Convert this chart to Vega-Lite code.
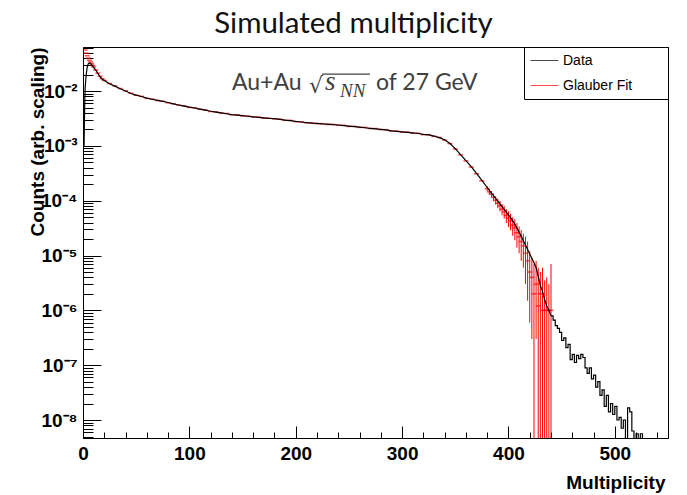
{
"$schema": "https://vega.github.io/schema/vega-lite/v6.json",
"width": 585, "height": 391,
"autosize": {"type": "none"},
"padding": {"left": 83, "top": 47, "right": 19, "bottom": 57},
"background": "white",
"title": {"text": "Simulated multiplicity", "font": "Lato", "fontSize": 29.5, "fontWeight": "normal", "color": "#111111", "anchor": "middle", "frame": "group", "dx": -22, "offset": 0},
"resolve": {"axis": {"x": "independent"}},
"config": {
  "view": {"stroke": "black", "strokeWidth": 1},
  "axis": {"grid": false, "domainColor": "black", "domainWidth": 1, "tickColor": "black", "tickWidth": 1,
    "labelFont": "Liberation Sans", "labelFontWeight": "bold", "labelFontSize": 19, "labelColor": "black",
    "titleFont": "Liberation Sans", "titleFontWeight": "bold", "titleFontSize": 19, "titleColor": "black",
    "labelOverlap": false, "labelBound": false, "labelFlush": false},
  "legend": {"orient": "top-right", "offset": 0, "strokeColor": "black", "fillColor": "white", "padding": 6,
    "symbolType": "M-1,0H3", "symbolSize": 196, "symbolStrokeWidth": 1, "labelFont": "Liberation Sans", "labelFontSize": 14,
    "labelColor": "black", "labelOffset": 18, "rowPadding": 10, "cornerRadius": 0}
},
"datasets": {
"hist": [
{"x":0,"y":1.0e-3},{"x":1,"y":1.0e-3},{"x":1.5,"y":4.47e-3},{"x":2,"y":1.12e-2},{"x":3,"y":2.0e-2},{"x":4,"y":2.75e-2},{"x":5,"y":3.16e-2},{"x":6,"y":3.24e-2},{"x":7,"y":3.24e-2},{"x":8,"y":3.02e-2},{"x":9,"y":2.88e-2},{"x":10,"y":2.69e-2},
{"x":12,"y":2.40e-2},{"x":14,"y":2.09e-2},{"x":16,"y":1.82e-2},{"x":18,"y":1.66e-2},{"x":20,"y":1.55e-2},
{"x":25,"y":1.36e-2},{"x":30,"y":1.23e-2},{"x":35,"y":1.10e-2},{"x":40,"y":1.00e-2},{"x":45,"y":9.02e-3},{"x":50,"y":8.41e-3},{"x":55,"y":7.94e-3},{"x":60,"y":7.41e-3},{"x":65,"y":7.08e-3},{"x":70,"y":6.76e-3},{"x":75,"y":6.46e-3},{"x":80,"y":6.17e-3},{"x":85,"y":5.82e-3},{"x":90,"y":5.56e-3},{"x":95,"y":5.31e-3},{"x":100,"y":5.07e-3},
{"x":105,"y":4.90e-3},{"x":110,"y":4.68e-3},{"x":115,"y":4.47e-3},{"x":120,"y":4.27e-3},{"x":125,"y":4.12e-3},{"x":130,"y":3.98e-3},{"x":135,"y":3.85e-3},{"x":140,"y":3.72e-3},{"x":145,"y":3.63e-3},{"x":150,"y":3.55e-3},{"x":155,"y":3.47e-3},{"x":160,"y":3.39e-3},{"x":165,"y":3.31e-3},{"x":170,"y":3.24e-3},{"x":175,"y":3.16e-3},{"x":180,"y":3.13e-3},{"x":185,"y":3.05e-3},{"x":190,"y":2.95e-3},{"x":195,"y":2.88e-3},{"x":200,"y":2.79e-3},
{"x":205,"y":2.72e-3},{"x":210,"y":2.66e-3},{"x":215,"y":2.60e-3},{"x":220,"y":2.57e-3},{"x":225,"y":2.51e-3},{"x":230,"y":2.48e-3},{"x":235,"y":2.43e-3},{"x":240,"y":2.40e-3},{"x":245,"y":2.34e-3},{"x":250,"y":2.29e-3},{"x":255,"y":2.24e-3},{"x":260,"y":2.19e-3},{"x":265,"y":2.14e-3},{"x":270,"y":2.09e-3},{"x":275,"y":2.04e-3},{"x":280,"y":2.00e-3},{"x":285,"y":1.95e-3},{"x":290,"y":1.88e-3},{"x":295,"y":1.84e-3},{"x":300,"y":1.80e-3},
{"x":305,"y":1.76e-3},{"x":310,"y":1.72e-3},{"x":315,"y":1.68e-3},{"x":320,"y":1.62e-3},{"x":325,"y":1.58e-3},{"x":330,"y":1.51e-3},{"x":335,"y":1.41e-3},{"x":340,"y":1.29e-3},{"x":345,"y":1.10e-3},{"x":350,"y":8.91e-4},{"x":355,"y":6.92e-4},{"x":360,"y":5.37e-4},{"x":365,"y":4.17e-4},{"x":370,"y":3.16e-4},{"x":375,"y":2.34e-4},{"x":380,"y":1.74e-4},
{"x":382,"y":1.55e-4},{"x":384,"y":1.38e-4},{"x":386,"y":1.23e-4},{"x":388,"y":1.10e-4},{"x":390,"y":9.77e-5},{"x":392,"y":8.71e-5},{"x":394,"y":7.76e-5},{"x":396,"y":6.92e-5},{"x":398,"y":6.17e-5},{"x":400,"y":5.50e-5},
{"x":402,"y":4.90e-5},{"x":404,"y":4.27e-5},{"x":406,"y":3.72e-5},{"x":408,"y":3.16e-5},{"x":410,"y":2.69e-5},{"x":412,"y":2.24e-5},{"x":414,"y":1.86e-5},{"x":416,"y":1.55e-5},{"x":418,"y":1.29e-5},{"x":420,"y":1.07e-5},
{"x":422,"y":8.91e-6},{"x":424,"y":7.41e-6},{"x":426,"y":6.03e-6},{"x":428,"y":4.17e-6},{"x":430,"y":2.82e-6},{"x":432,"y":2.24e-6},{"x":434,"y":1.58e-6},{"x":436,"y":1.20e-6},{"x":438,"y":1.00e-6},{"x":440,"y":7.94e-7}
],
"tail": [
{"x":440,"y":7.94e-7},
{"x":442,"y":6.61e-7},{"x":444,"y":5.25e-7},{"x":446,"y":4.68e-7},{"x":448,"y":3.98e-7},{"x":450,"y":2.82e-7},{"x":452,"y":3.16e-7},{"x":454,"y":2.09e-7},{"x":456,"y":2.40e-7},{"x":458,"y":1.26e-7},{"x":460,"y":1.58e-7},
{"x":462,"y":1.12e-7},{"x":464,"y":1.51e-7},{"x":466,"y":1.32e-7},{"x":468,"y":1.58e-7},{"x":470,"y":1.38e-7},{"x":472,"y":8.91e-8},{"x":474,"y":7.08e-8},{"x":476,"y":8.91e-8},{"x":478,"y":5.62e-8},{"x":480,"y":6.61e-8},
{"x":482,"y":3.98e-8},{"x":484,"y":5.01e-8},{"x":486,"y":2.82e-8},{"x":488,"y":3.55e-8},{"x":490,"y":1.78e-8},{"x":492,"y":2.82e-8},{"x":494,"y":1.41e-8},{"x":496,"y":2.00e-8},{"x":498,"y":1.26e-8},{"x":500,"y":1.78e-8},
{"x":502,"y":1.0e-8},{"x":504,"y":1.12e-8},{"x":506,"y":7.08e-9},{"x":508,"y":1.0e-8},{"x":510,"y":1e-10},{"x":512,"y":1.66e-8},{"x":514,"y":1.41e-8},{"x":516,"y":6.31e-9},{"x":518,"y":1e-10},{"x":520,"y":5.62e-9},{"x":522,"y":1e-10},{"x":524,"y":5.62e-9},{"x":526,"y":1e-10}
],
"fit": [
{"x":1,"y":6.5e-2},{"x":2,"y":5.6e-2},{"x":3,"y":4.9e-2},{"x":4,"y":4.4e-2},{"x":5,"y":3.98e-2},{"x":6,"y":3.63e-2},{"x":7,"y":3.39e-2},{"x":8,"y":3.16e-2},{"x":9,"y":2.95e-2},{"x":10,"y":2.75e-2},
{"x":12,"y":2.42e-2},{"x":14,"y":2.12e-2},{"x":16,"y":1.86e-2},{"x":18,"y":1.68e-2},{"x":20,"y":1.56e-2},
{"x":25,"y":1.37e-2},{"x":30,"y":1.24e-2},{"x":35,"y":1.11e-2},{"x":40,"y":1.01e-2},{"x":45,"y":9.1e-3},{"x":50,"y":8.35e-3},{"x":55,"y":7.98e-3},{"x":60,"y":7.35e-3},{"x":65,"y":7.12e-3},{"x":70,"y":6.70e-3},{"x":75,"y":6.50e-3},{"x":80,"y":6.10e-3},{"x":85,"y":5.86e-3},{"x":90,"y":5.52e-3},{"x":95,"y":5.36e-3},{"x":100,"y":5.02e-3},
{"x":105,"y":4.95e-3},{"x":110,"y":4.64e-3},{"x":115,"y":4.50e-3},{"x":120,"y":4.23e-3},{"x":125,"y":4.16e-3},{"x":130,"y":3.94e-3},{"x":135,"y":3.89e-3},{"x":140,"y":3.68e-3},{"x":145,"y":3.67e-3},{"x":150,"y":3.51e-3},{"x":155,"y":3.50e-3},{"x":160,"y":3.36e-3},{"x":165,"y":3.34e-3},{"x":170,"y":3.20e-3},{"x":175,"y":3.19e-3},{"x":180,"y":3.10e-3},{"x":185,"y":3.08e-3},{"x":190,"y":2.92e-3},{"x":195,"y":2.91e-3},{"x":200,"y":2.76e-3},
{"x":205,"y":2.75e-3},{"x":210,"y":2.63e-3},{"x":215,"y":2.63e-3},{"x":220,"y":2.54e-3},{"x":225,"y":2.54e-3},{"x":230,"y":2.45e-3},{"x":235,"y":2.46e-3},{"x":240,"y":2.37e-3},{"x":245,"y":2.37e-3},{"x":250,"y":2.26e-3},{"x":255,"y":2.27e-3},{"x":260,"y":2.17e-3},{"x":265,"y":2.17e-3},{"x":270,"y":2.07e-3},{"x":275,"y":2.07e-3},{"x":280,"y":1.98e-3},{"x":285,"y":1.97e-3},{"x":290,"y":1.86e-3},{"x":295,"y":1.86e-3},{"x":300,"y":1.78e-3},
{"x":305,"y":1.78e-3},{"x":310,"y":1.70e-3},{"x":315,"y":1.70e-3},{"x":320,"y":1.60e-3},{"x":325,"y":1.60e-3},{"x":330,"y":1.49e-3},{"x":335,"y":1.42e-3},{"x":340,"y":1.27e-3},{"x":345,"y":1.10e-3},{"x":350,"y":8.8e-4},{"x":355,"y":6.85e-4},{"x":360,"y":5.3e-4},{"x":365,"y":4.1e-4},{"x":370,"y":3.1e-4},{"x":375,"y":2.3e-4},
{"x":380,"y":1.66e-4,"lo":1.5e-4,"hi":1.85e-4},{"x":382,"y":1.45e-4,"lo":1.28e-4,"hi":1.62e-4},{"x":384,"y":1.32e-4,"lo":1.15e-4,"hi":1.5e-4},{"x":386,"y":1.15e-4,"lo":0.98e-4,"hi":1.33e-4},{"x":388,"y":1.02e-4,"lo":0.85e-4,"hi":1.2e-4},
{"x":390,"y":9.0e-5,"lo":7.3e-5,"hi":1.08e-4},{"x":392,"y":8.1e-5,"lo":6.4e-5,"hi":9.9e-5},{"x":394,"y":7.0e-5,"lo":5.4e-5,"hi":8.7e-5},{"x":396,"y":6.3e-5,"lo":4.7e-5,"hi":8.0e-5},{"x":398,"y":5.4e-5,"lo":3.9e-5,"hi":7.0e-5},
{"x":400,"y":4.8e-5,"lo":3.3e-5,"hi":6.4e-5},{"x":402,"y":4.3e-5,"lo":2.9e-5,"hi":5.8e-5},{"x":404,"y":3.6e-5,"lo":2.3e-5,"hi":5.0e-5},{"x":406,"y":3.2e-5,"lo":1.9e-5,"hi":4.6e-5},{"x":408,"y":2.6e-5,"lo":1.4e-5,"hi":3.9e-5},
{"x":410,"y":2.2e-5,"lo":1.1e-5,"hi":3.4e-5},{"x":412,"y":1.8e-5,"lo":8e-6,"hi":2.9e-5},{"x":414,"y":1.5e-5,"lo":6e-6,"hi":2.5e-5},{"x":416,"y":1.1e-5,"lo":3e-6,"hi":2.2e-5},{"x":418,"y":8e-6,"lo":1.5e-6,"hi":1.8e-5},
{"x":420,"y":5e-6,"lo":6e-7,"hi":1.2e-5},{"x":422,"y":4e-6,"lo":3e-7,"hi":9e-6},{"x":424,"y":2e-6,"lo":1e-10,"hi":7e-6},{"x":426,"y":3e-6,"lo":3e-7,"hi":8e-6},{"x":428,"y":1.2e-6,"lo":1e-10,"hi":6e-6},
{"x":430,"y":2e-6,"lo":1e-10,"hi":5e-6},{"x":432,"y":1.0e-6,"lo":1e-10,"hi":6e-6},{"x":434,"y":1.0e-6,"lo":1e-10,"hi":3.5e-6},{"x":436,"y":1.0e-6,"lo":1e-10,"hi":4e-6},{"x":438,"y":1.0e-6,"lo":1e-10,"hi":3e-6},{"x":440,"y":1.0e-6,"lo":1e-10,"hi":7e-6}
]
},
"layer": [
{"data": {"name": "fit"},
 "mark": {"type": "rule", "clip": true, "strokeWidth": 1},
 "encoding": {
  "x": {"field": "x", "type": "quantitative", "scale": {"domain": [0, 550], "nice": false, "zero": false},
    "axis": {"orient": "bottom", "values": [0,100,200,300,400,500], "tickSize": -12, "labelOverlap": false,
      "labelPadding": 18, "title": "Multiplicity", "titleAlign": "right", "titleAnchor": "end", "titleX": 582, "titleY": 50, "titleBaseline": "alphabetic"}},
  "y": {"field": "lo", "type": "quantitative", "scale": {"type": "log", "domain": [4.7e-9, 0.0635], "nice": false},
    "axis": {"values": [5e-9,6e-9,7e-9,8e-9,9e-9,1e-8,2e-8,3e-8,4e-8,5e-8,6e-8,7e-8,8e-8,9e-8,1e-7,2e-7,3e-7,4e-7,5e-7,6e-7,7e-7,8e-7,9e-7,1e-6,2e-6,3e-6,4e-6,5e-6,6e-6,7e-6,8e-6,9e-6,1e-5,2e-5,3e-5,4e-5,5e-5,6e-5,7e-5,8e-5,9e-5,1e-4,2e-4,3e-4,4e-4,5e-4,6e-4,7e-4,8e-4,9e-4,1e-3,2e-3,3e-3,4e-3,5e-3,6e-3,7e-3,8e-3,9e-3,1e-2,2e-2,3e-2,4e-2,5e-2,6e-2],
      "labelExpr": "abs(log(datum.value)/LN10 - round(log(datum.value)/LN10)) < 0.01 ? ['','','10⁻²','10⁻³','10⁻⁴','10⁻⁵','10⁻⁶','10⁻⁷','10⁻⁸'][-round(log(datum.value)/LN10)] : ''", "labelOverlap": false,
      "tickSize": {"condition": {"test": "abs(log(datum.value)/LN10 - round(log(datum.value)/LN10)) < 0.01", "value": -18}, "value": -10},
      "labelPadding": 24, "title": "Counts (arb. scaling)", "titleAngle": -90, "titleAlign": "right", "titleBaseline": "middle", "titleX": -46, "titleY": 0}},
  "y2": {"field": "hi"},
  "color": {"datum": "Glauber Fit", "type": "nominal", "scale": {"domain": ["Data", "Glauber Fit"], "range": ["black", "#ff0000"]},
    "legend": {"title": "MM", "titleOrient": "right", "titleAngle": 0, "titleFontSize": 10, "titlePadding": 13, "titleColor": "rgba(0,0,0,0)"}}
 }},
{"data": {"name": "fit"},
 "mark": {"type": "tick", "orient": "horizontal", "size": 5, "thickness": 1.5, "clip": true},
 "encoding": {
  "x": {"field": "x", "type": "quantitative",
    "axis": {"orient": "bottom", "values": [20,40,60,80,120,140,160,180,220,240,260,280,320,340,360,380,420,440,460,480,520,540], "tickSize": -6, "labels": false, "domain": false, "title": null}},
  "y": {"field": "y", "type": "quantitative"},
  "color": {"datum": "Glauber Fit", "type": "nominal"}
 }},
{"data": {"name": "hist"},
 "mark": {"type": "line", "interpolate": "linear", "clip": true, "strokeWidth": 1.2},
 "encoding": {
  "x": {"field": "x", "type": "quantitative", "axis": null},
  "y": {"field": "y", "type": "quantitative"},
  "color": {"datum": "Data", "type": "nominal"}
 }},
{"data": {"name": "tail"},
 "mark": {"type": "line", "interpolate": "step-after", "clip": true, "strokeWidth": 1.2},
 "encoding": {
  "x": {"field": "x", "type": "quantitative", "axis": null},
  "y": {"field": "y", "type": "quantitative"},
  "color": {"datum": "Data", "type": "nominal"}
 }},
{"data": {"values": [{}]},
 "mark": {"type": "text", "align": "left", "baseline": "alphabetic", "font": "Lato", "fontSize": 23, "color": "#404040"},
 "encoding": {"x": {"datum": 140.1, "axis": null}, "y": {"datum": 0.01043}, "text": {"value": "Au+Au"}}},
{"data": {"values": [{}]},
 "mark": {"type": "text", "align": "left", "baseline": "alphabetic", "font": "DejaVu Sans", "fontSize": 22, "color": "#404040"},
 "encoding": {"x": {"datum": 212.5, "axis": null}, "y": {"datum": 0.00919}, "text": {"value": "√"}}},
{"data": {"values": [{}]},
 "mark": {"type": "text", "align": "left", "baseline": "alphabetic", "font": "Liberation Serif", "fontStyle": "italic", "fontSize": 27, "color": "#404040"},
 "encoding": {"x": {"datum": 227.5, "axis": null}, "y": {"datum": 0.01043}, "text": {"value": "s"}}},
{"data": {"values": [{}]},
 "mark": {"type": "text", "align": "left", "baseline": "alphabetic", "font": "Liberation Serif", "fontStyle": "italic", "fontSize": 19, "color": "#404040"},
 "encoding": {"x": {"datum": 241.6, "axis": null}, "y": {"datum": 0.00778}, "text": {"value": "NN"}}},
{"data": {"values": [{}]},
 "mark": {"type": "rule", "color": "#404040", "strokeWidth": 1.2},
 "encoding": {"x": {"datum": 224.7, "axis": null}, "x2": {"datum": 269.8}, "y": {"datum": 0.0204}}},
{"data": {"values": [{}]},
 "mark": {"type": "text", "align": "left", "baseline": "alphabetic", "font": "Lato", "fontSize": 23, "color": "#404040"},
 "encoding": {"x": {"datum": 275.5, "axis": null}, "y": {"datum": 0.01043}, "text": {"value": "of 27 GeV"}}}
]
}
